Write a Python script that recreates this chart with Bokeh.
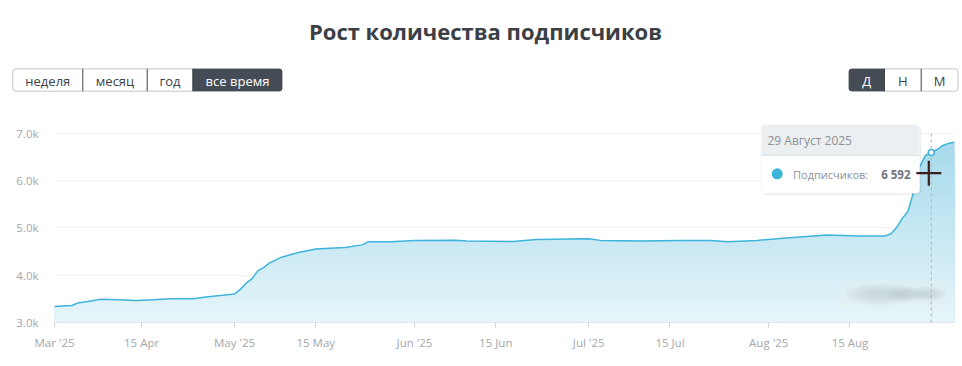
import numpy as np
import pandas as pd
from bokeh.plotting import figure
from bokeh.layouts import column
from bokeh.models import Range1d, FixedTicker, BoxAnnotation, Label
from bokeh.core.properties import value
from bokeh.embed import file_html
from bokeh.resources import INLINE

# ---------------- data ----------------
title_text = "Рост количества подписчиков"
period_buttons = ["неделя", "месяц", "год", "все время"]
interval_buttons = ["Д", "Н", "М"]
active_period = 3
active_interval = 0

dates = ["2025-03-31", "2025-04-03", "2025-04-04", "2025-04-06", "2025-04-08", "2025-04-11",
         "2025-04-14", "2025-04-17", "2025-04-20", "2025-04-24", "2025-04-26", "2025-04-29",
         "2025-05-01", "2025-05-02", "2025-05-03", "2025-05-04", "2025-05-05", "2025-05-06",
         "2025-05-07", "2025-05-09", "2025-05-12", "2025-05-15", "2025-05-20", "2025-05-23",
         "2025-05-24", "2025-05-28", "2025-06-01", "2025-06-08", "2025-06-10", "2025-06-18",
         "2025-06-22", "2025-07-01", "2025-07-03", "2025-07-10", "2025-07-17", "2025-07-22",
         "2025-07-25", "2025-07-30", "2025-08-04", "2025-08-11", "2025-08-17", "2025-08-21",
         "2025-08-22", "2025-08-23", "2025-08-24", "2025-08-25", "2025-08-26", "2025-08-27",
         "2025-08-28", "2025-08-29", "2025-08-30", "2025-08-31", "2025-09-01", "2025-09-02"]
subscribers = [3340, 3360, 3410, 3450, 3490, 3480, 3465, 3480, 3500, 3500, 3540, 3575,
               3600, 3700, 3830, 3920, 4090, 4160, 4255, 4375, 4480, 4555, 4585, 4640,
               4705, 4705, 4730, 4740, 4720, 4710, 4755, 4770, 4735, 4720, 4735, 4735,
               4705, 4735, 4785, 4850, 4830, 4830, 4870, 5000, 5200, 5350, 5780, 6290,
               6530, 6592, 6655, 6740, 6785, 6810]
assert len(dates) == len(subscribers)

x_tick_dates = ["2025-03-31", "2025-04-15", "2025-05-01", "2025-05-15", "2025-06-01",
                "2025-06-15", "2025-07-01", "2025-07-15", "2025-08-01", "2025-08-15"]
x_tick_labels = ["Mar '25", "15 Apr", "May '25", "15 May", "Jun '25",
                 "15 Jun", "Jul '25", "15 Jul", "Aug '25", "15 Aug"]
y_ticks = [3000, 4000, 5000, 6000, 7000]
y_tick_labels = ["3.0k", "4.0k", "5.0k", "6.0k", "7.0k"]

hover_date = "2025-08-29"
tooltip_date = "29 Август 2025"
tooltip_label = "Подписчиков:"


def to_ms(ds):
    return pd.to_datetime(ds).values.astype("datetime64[ms]").astype("int64").astype(float)


xs = to_ms(dates)
ys = np.array(subscribers, dtype=float)
hover_x = to_ms([hover_date])[0]
hover_v = ys[list(dates).index(hover_date)]
hover_text = f"{int(hover_v):,}".replace(",", " ")

# ---------------- layout geometry (page pixels) ----------------
W = 962
TOP_H = 113
MAIN_H = 253
FR_L, FR_R = 54.0, 954.0
FR_T, FR_B = 121.0, 322.0
PX_PER_UNIT = 47.33 / 1000.0
Y0 = 3000.0
Y1 = Y0 + (FR_B - FR_T) / PX_PER_UNIT
X0, X1 = xs[0], xs[-1]


def sx(px):
    return X0 + (px - FR_L) / (FR_R - FR_L) * (X1 - X0)


def sy(py):
    return Y0 + (FR_B - py) / (FR_B - FR_T) * (Y1 - Y0)


FONT = "Open Sans"

# ---------------- top (title + buttons) ----------------
top = figure(width=W, height=TOP_H, x_range=Range1d(0, W), y_range=Range1d(0, TOP_H),
             toolbar_location=None, output_backend="svg", min_border=0,
             x_axis_type=None, y_axis_type=None)
top.frame_align = False
top.grid.visible = False
top.outline_line_color = None
top.background_fill_color = "white"
top.border_fill_color = "white"


def ty(img_y):
    return TOP_H - img_y


top.text(x=[485], y=[ty(30)], text=[title_text], text_font=value(FONT),
         text_font_style="bold", text_font_size="22px", text_align="center",
         text_baseline="middle", text_color="#3b4046")

DARK = "#3d434a"
ACTIVE_FILL = "#464c55"


def button_group(labels, edges, active):
    top_y, bot_y = ty(68.3), ty(90.7)
    n = len(labels)
    top.add_layout(BoxAnnotation(left=edges[0], right=edges[-1], top=top_y, bottom=bot_y,
                                 fill_color="white", fill_alpha=1, line_color=None,
                                 border_radius=3, level="annotation"))
    if active == n - 1:
        br = (0, 3, 3, 0)
    elif active == 0:
        br = (3, 0, 0, 3)
    else:
        br = 0
    top.add_layout(BoxAnnotation(left=edges[active], right=edges[active + 1], top=top_y,
                                 bottom=bot_y, fill_color=ACTIVE_FILL, fill_alpha=1,
                                 line_color=None, border_radius=br, level="annotation"))
    top.add_layout(BoxAnnotation(left=edges[0], right=edges[-1], top=top_y, bottom=bot_y,
                                 fill_alpha=0, line_color=DARK, line_width=1,
                                 border_radius=3, level="annotation"))
    r = top.segment(x0=edges[1:-1], x1=edges[1:-1], y0=[top_y] * (n - 1), y1=[bot_y] * (n - 1),
                    line_color=DARK, line_width=1)
    r.level = "overlay"
    cx = [(edges[i] + edges[i + 1]) / 2 for i in range(n)]
    colors = ["white" if i == active else DARK for i in range(n)]
    r = top.text(x=cx, y=[ty(80.3)] * n, text=labels, text_font=value(FONT),
                 text_font_size="13px", text_align="center", text_baseline="middle",
                 text_color=colors)
    r.level = "overlay"


button_group(period_buttons, [12.3, 82.3, 146.7, 192.3, 281.7], active_period)
button_group(interval_buttons, [848.3, 884.0, 920.7, 957.5], active_interval)

# ---------------- main chart ----------------
p = figure(width=W, height=MAIN_H, x_axis_type="datetime",
           x_range=Range1d(X0, X1), y_range=Range1d(Y0, Y1),
           toolbar_location=None, output_backend="svg",
           min_border_left=int(FR_L), min_border_right=int(W - FR_R),
           min_border_top=int(FR_T - TOP_H), min_border_bottom=int(TOP_H + MAIN_H - FR_B))
p.frame_align = False
p.outline_line_color = None
p.background_fill_color = "white"
p.border_fill_color = "white"

# gradient fill: stacked layers, each clipped at a level of the curve
levels = np.arange(3100, 7001, 100, dtype=float)


def add_crossings(x, y, lv):
    rx, ry = [x[0]], [y[0]]
    for i in range(len(x) - 1):
        xa, ya, xb, yb = x[i], y[i], x[i + 1], y[i + 1]
        cross = [L for L in lv if min(ya, yb) < L < max(ya, yb)]
        cross.sort(reverse=yb < ya)
        for L in cross:
            t = (L - ya) / (yb - ya)
            rx.append(xa + t * (xb - xa))
            ry.append(L)
        rx.append(xb)
        ry.append(yb)
    return np.array(rx), np.array(ry)


rx, ry = add_crossings(xs, ys, levels)
c_top = np.array([163, 217, 235])
c_bot = np.array([230, 245, 250])
for hi in levels[::-1]:
    f = (hi - 50 - 3000) / 4000.0
    c = np.round(c_bot + (c_top - c_bot) * f).astype(int)
    col = "#%02x%02x%02x" % tuple(c)
    p.varea(x=rx, y1=Y0, y2=np.minimum(ry, hi), fill_color=col, fill_alpha=1)

# blurred watermark in the lower right corner
p.rect(x=[sx(892)], y=[sy(294)], width=104, height=28, width_units="screen",
       height_units="screen", fill_color="#e6edf0", fill_alpha=0.5, line_color=None)
wm_x = [sx(880), sx(905), sx(928)]
wm_y = [sy(293.5), sy(293.5), sy(293.5)]
for k in [1.0, 0.85, 0.7, 0.55, 0.4]:
    p.ellipse(x=wm_x, y=wm_y, width=[70 * k, 40 * k, 34 * k], height=[22 * k, 16 * k, 16 * k],
              width_units="screen", height_units="screen",
              fill_color="#98a3a8", fill_alpha=0.06, line_color=None)

p.line(xs, ys, line_color="#3fb4da", line_width=1.5)

# crosshair
p.segment(x0=[hover_x], x1=[hover_x], y0=[3000], y1=[7000], line_color="#b0b4b8",
          line_width=1, line_dash="3 3")
p.scatter([hover_x], [hover_v], size=6, fill_color="white", line_color="#3fb4da",
          line_width=1.5)

# axes
p.xaxis.ticker = FixedTicker(ticks=list(to_ms(x_tick_dates)))
p.xaxis.major_label_overrides = {int(t): l for t, l in zip(to_ms(x_tick_dates), x_tick_labels)}
p.xaxis.axis_line_color = "#dde3ea"
p.xaxis.major_tick_line_color = "#ccd2d8"
p.xaxis.major_tick_out = 5
p.xaxis.major_tick_in = 0
p.xaxis.minor_tick_line_color = None
p.xaxis.major_label_standoff = 7
p.xaxis.major_label_text_color = "#a3a7ab"
p.xaxis.major_label_text_font = FONT
p.xaxis.major_label_text_font_size = "11.5px"

p.yaxis.ticker = FixedTicker(ticks=y_ticks)
p.yaxis.major_label_overrides = {t: l for t, l in zip(y_ticks, y_tick_labels)}
p.yaxis.axis_line_color = None
p.yaxis.major_tick_line_color = None
p.yaxis.minor_tick_line_color = None
p.yaxis.major_label_standoff = 10
p.yaxis.major_label_text_color = "#a3a7ab"
p.yaxis.major_label_text_font = FONT
p.yaxis.major_label_text_font_size = "11.5px"

p.xgrid.visible = False
p.ygrid.ticker = FixedTicker(ticks=y_ticks)
p.ygrid.grid_line_color = "#f3f3f3"

# tooltip
p.add_layout(BoxAnnotation(left=sx(762), right=sx(921), top=sy(125.5), bottom=sy(195),
                           fill_color="black", fill_alpha=0.05, line_color=None,
                           border_radius=5, level="annotation"))
p.add_layout(BoxAnnotation(left=sx(760.7), right=sx(919.3), top=sy(124), bottom=sy(192.7),
                           fill_color="white", fill_alpha=1, line_color="#e2e5e8",
                           line_width=1, border_radius=4, level="annotation"))
p.add_layout(BoxAnnotation(left=sx(761.2), right=sx(918.8), top=sy(124.5), bottom=sy(155),
                           fill_color="#eceff1", fill_alpha=1, line_color=None,
                           border_radius=(4, 4, 0, 0), level="annotation"))
r = p.segment(x0=[sx(761)], x1=[sx(919)], y0=[sy(155)], y1=[sy(155)],
              line_color="#e0e4e7", line_width=1)
r.level = "overlay"
r = p.scatter([sx(776.7)], [sy(173.3)], size=11, fill_color="#3db5db", line_color=None)
r.level = "overlay"

p.add_layout(Label(x=sx(767), y=sy(140), text=tooltip_date, text_baseline="middle",
                   text_font=FONT, text_font_size="12px", text_color="#8c9196",
                   level="overlay"))
p.add_layout(Label(x=sx(792.5), y=sy(173.5), text=tooltip_label, text_baseline="middle",
                   text_font=FONT, text_font_size="11px", text_color="#8c9196",
                   level="overlay"))
p.add_layout(Label(x=sx(910), y=sy(173.5), text=hover_text, text_baseline="middle",
                   text_align="right", text_font=FONT, text_font_size="11.5px",
                   text_font_style="bold", text_color="#70767c", level="overlay"))

# mouse cursor
r = p.scatter([sx(928.3)], [sy(172.7)], marker="cross", size=25, line_color="#3a1f1a",
              line_width=2.2)
r.level = "overlay"

layout = column(top, p, spacing=0)
open("out.html", "w").write(file_html(layout, INLINE))
